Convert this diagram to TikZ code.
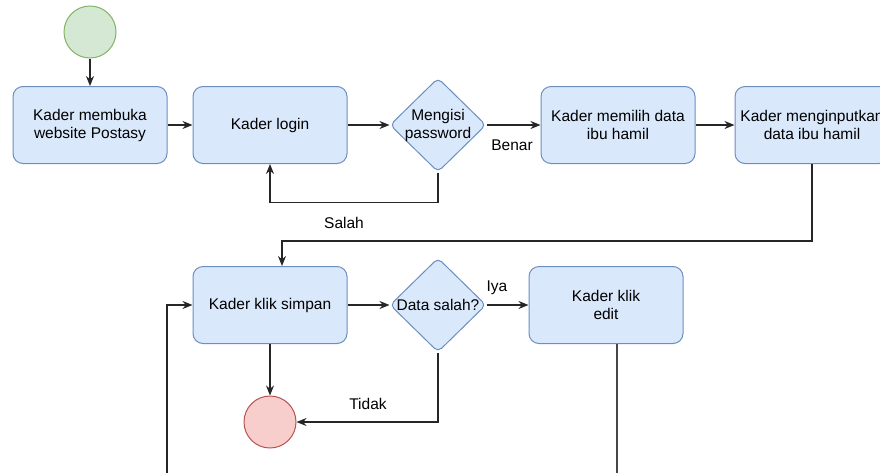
\documentclass[tikz,border=0pt]{standalone}
\usepackage{fontspec}
\setmainfont{Liberation Sans}
\usepackage{xcolor}
\usepackage{tikz}
\usetikzlibrary{shapes.geometric}
\usetikzlibrary{arrows.meta}
\usetikzlibrary{positioning}

\definecolor{actfill}{HTML}{DAE8FC}
\definecolor{actline}{HTML}{6C8EBF}
\definecolor{startfill}{HTML}{D5E8D4}
\definecolor{startline}{HTML}{82B366}
\definecolor{endfill}{HTML}{F8CECC}
\definecolor{endline}{HTML}{B85450}
\definecolor{wire}{HTML}{262626}

\begin{document}
\begin{tikzpicture}[
  x=1pt, y=-1pt,
  every node/.style={font=\fontsize{15.5}{18}\selectfont},
  activity/.style={rectangle, rounded corners=10pt, draw=actline, fill=actfill, line width=1pt,
    minimum width=154pt, minimum height=77pt, inner sep=0pt, align=center},
  decision/.style={diamond, rounded corners=5pt, draw=actline, fill=actfill, line width=1pt,
    minimum width=96pt, minimum height=94pt, inner sep=0pt},
  dtext/.style={align=center, inner sep=0pt},
  initial/.style={circle, draw=startline, fill=startfill, line width=1pt, minimum size=52pt, inner sep=0pt},
  final/.style={circle, draw=endline, fill=endfill, line width=1pt, minimum size=52pt, inner sep=0pt},
  flow/.style={draw=wire, line width=1.3pt, -{Stealth[length=10pt,width=8pt]}},
  wireline/.style={draw=wire!85, line width=1.3pt},
  lbl/.style={inner sep=1pt}
]
\useasboundingbox (0,0) rectangle (880,472);
\clip (0,0) rectangle (880,472);

% top row
\node[initial] (start) at (90,32) {};
\node[activity] (open) at (90,125) {Kader membuka\\website Postasy};
\node[activity] (login) at (270,125) {Kader login};
\node[decision] (pw) at (438,125) {};
\node[dtext] (pwtext) at (pw) {Mengisi\\password};
\node[activity] (pick) at (618,125) {Kader memilih data\\ibu hamil};
\node[activity] (input) at (812,125) {Kader menginputkan\\data ibu hamil};

% bottom row
\node[activity] (simpan) at (270,305) {Kader klik simpan};
\node[decision] (wrong) at (438,305) {};
\node[dtext] (wrongtext) at (wrong) {Data salah?};
\node[activity] (edit) at (606,305) {Kader klik\\edit};
\node[final] (finish) at (270,422) {};

\coordinate (editout) at (617,480);
\coordinate (backin) at (167,480);

% labels
\node[lbl] (benar) at (512,145) {Benar};
\node[lbl] (salah) at (344,223) {Salah};
\node[lbl] (iya) at (497,288) {Iya};
\node[lbl] (tidak) at (368,404) {Tidak};

% connectors
\draw[flow] (start) -- (open);
\draw[flow] (open) -- (login);
\draw[flow] (login) -- (pw);
\draw[flow] (pw) -- (pick);
\draw[flow] (pw.south) -- ++(0,30) -| (login.south);
\draw[flow] (pick) -- (input);
\draw[flow] (input.south) -- ++(0,77) -| ([xshift=12pt]simpan.north);
\draw[flow] (simpan) -- (wrong);
\draw[flow] (wrong) -- (edit);
\draw[flow] (simpan) -- (finish);
\draw[flow] (wrong.south) |- (finish.east);
\draw[wireline] (edit.south -| editout) -- (editout);
\draw[flow] (backin) |- (simpan.west);
\end{tikzpicture}
\end{document}
